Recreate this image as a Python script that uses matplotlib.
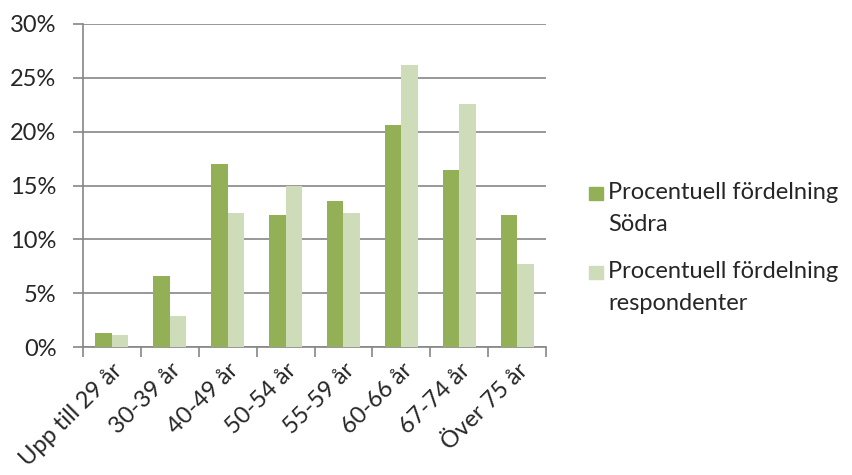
import numpy as np
import matplotlib
matplotlib.use("Agg")
import matplotlib.pyplot as plt
from matplotlib.patches import Rectangle

plt.rcParams['font.family'] = ['Lato', 'DejaVu Sans']

categories = ["Upp till 29 år", "30-39 år", "40-49 år", "50-54 år",
              "55-59 år", "60-66 år", "67-74 år", "Över 75 år"]
sodra = [1.3, 6.6, 17.0, 12.3, 13.6, 20.6, 16.4, 12.3]
respondenter = [1.1, 2.9, 12.4, 15.0, 12.4, 26.2, 22.6, 7.7]
series_labels = ["Procentuell fördelning\nSödra",
                 "Procentuell fördelning\nrespondenter"]
yticks = [0, 5, 10, 15, 20, 25, 30]

dark = "#93B057"
light = "#CFDCB9"
grey = "#868686"
textc = "#262626"

W, H = 852, 475
fig = plt.figure(figsize=(W / 100, H / 100), dpi=100)
ax = fig.add_axes([83 / W, 1 - 347 / H, 463 / W, 323 / H])

x = np.arange(len(categories))
w = 0.286
b1 = ax.bar(x - w / 2, sodra, w, color=dark, zorder=3)
b2 = ax.bar(x + w / 2, respondenter, w, color=light, zorder=3)

ax.set_xlim(-0.5, len(categories) - 0.5)
ax.set_ylim(0, 30)
ax.set_yticks(yticks)
ax.set_yticklabels([f"{t}%" for t in yticks], fontsize=17, color=textc)
ax.yaxis.grid(True, color=grey, linewidth=1.2, zorder=0)

# category boundaries get the tick marks, labels sit at the centres
ax.set_xticks(np.arange(len(categories) + 1) - 0.5)
ax.set_xticklabels([])
ax.set_xticks(x, minor=True)
ax.set_xticklabels(categories, minor=True, rotation=45, ha='right',
                   rotation_mode='anchor', fontsize=17, color=textc)
ax.tick_params(axis='x', which='major', length=7, width=1.2, color=grey)
ax.tick_params(axis='x', which='minor', length=0, pad=9)
ax.tick_params(axis='y', length=7, width=1.2, color=grey, pad=12)

for s in ['top', 'right']:
    ax.spines[s].set_visible(False)
for s in ['left', 'bottom']:
    ax.spines[s].set_color(grey)
    ax.spines[s].set_linewidth(1.2)

# legend: square next to the first line of each two-line label
for i, (label, col) in enumerate(zip(series_labels, [dark, light])):
    top = 187 + i * 79
    fig.patches.append(Rectangle((589 / W, 1 - (top + 13) / H), 14 / W, 13 / H,
                                 transform=fig.transFigure, color=col))
    for j, line in enumerate(label.split("\n")):
        fig.text(608 / W, 1 - (top + 12 + j * 32) / H, line, fontsize=17,
                 color=textc, va='baseline', ha='left')

fig.savefig("out.png", dpi=100)
